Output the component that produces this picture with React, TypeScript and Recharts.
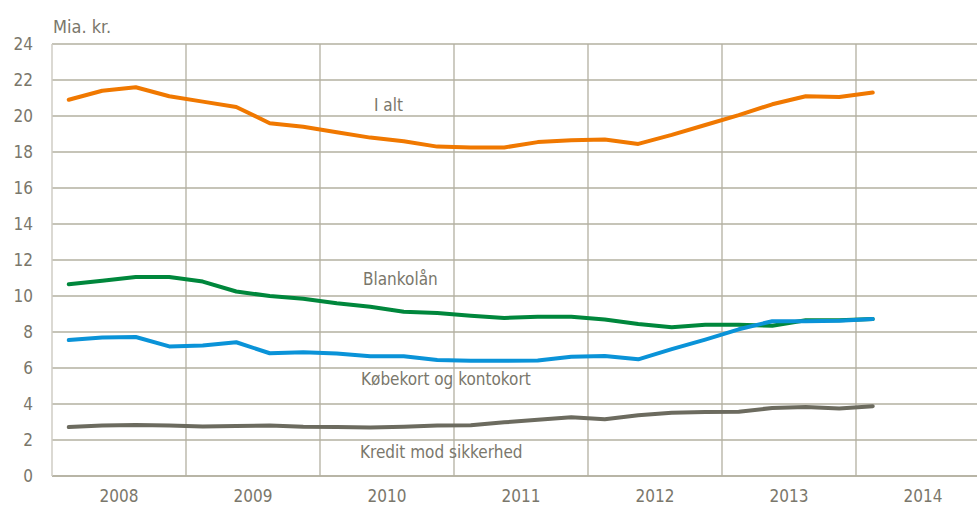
import React from 'react';
import { LineChart, Line, XAxis, YAxis, CartesianGrid, ReferenceLine } from 'recharts';

// quarterly values 2008 Q1 - 2014 Q1, mia. kr.
const iAlt = [20.9, 21.4, 21.6, 21.1, 20.8, 20.5, 19.6, 19.4, 19.1, 18.8, 18.6, 18.3, 18.25, 18.25, 18.55, 18.65, 18.7, 18.45, 18.95, 19.5, 20.05, 20.65, 21.1, 21.05, 21.3];
const blankolaan = [10.65, 10.85, 11.05, 11.05, 10.8, 10.25, 10.0, 9.85, 9.6, 9.4, 9.13, 9.05, 8.9, 8.78, 8.85, 8.85, 8.7, 8.45, 8.27, 8.4, 8.4, 8.35, 8.65, 8.65, 8.72];
const koebekort = [7.55, 7.7, 7.72, 7.2, 7.25, 7.43, 6.82, 6.88, 6.8, 6.65, 6.65, 6.45, 6.4, 6.4, 6.42, 6.63, 6.67, 6.48, 7.05, 7.58, 8.15, 8.6, 8.6, 8.63, 8.72];
const kredit = [2.72, 2.8, 2.83, 2.8, 2.75, 2.78, 2.8, 2.73, 2.72, 2.69, 2.73, 2.8, 2.82, 2.98, 3.12, 3.27, 3.15, 3.37, 3.52, 3.56, 3.57, 3.78, 3.84, 3.75, 3.88];

const years = ['2008', '2009', '2010', '2011', '2012', '2013', '2014'];
const yTicks = [0, 2, 4, 6, 8, 10, 12, 14, 16, 18, 20, 22, 24];

const data = iAlt.map((v, i) => ({
  t: i + 0.5,
  iAlt: v,
  blankolaan: blankolaan[i],
  koebekort: koebekort[i],
  kredit: kredit[i],
}));

const yearCenters = years.map((_, i) => i * 4 + 2);
const yearBounds = years.slice(1).map((_, i) => (i + 1) * 4);

const font = '"Liberation Sans Narrow", "DejaVu Sans Condensed", "Arial Narrow", sans-serif';
const txt = '#7a776b';
const grid = '#b3b0a1';

const App = () => {
  return (
    <div style={{ position: 'absolute', left: 0, top: 0, width: 977, height: 507, overflow: 'hidden', background: '#fff', fontFamily: font }}>
      <LineChart width={1000} height={507} data={data} margin={{ top: 44, right: 10, bottom: 0, left: 0 }}>
        <CartesianGrid vertical={false} stroke={grid} strokeWidth={1.3} />
        {yearBounds.map((x) => (
          <ReferenceLine key={x} x={x} stroke={grid} strokeWidth={1.3} />
        ))}
        <XAxis
          type="number"
          dataKey="t"
          domain={[0, 28]}
          ticks={yearCenters}
          tickFormatter={(v: number) => years[(v - 2) / 4]}
          tickLine={false}
          axisLine={{ stroke: grid, strokeWidth: 1.3 }}
          tickMargin={8}
          height={31}
          tick={{ fill: txt, fontSize: 17, fontFamily: font }}
        />
        <YAxis
          domain={[0, 24]}
          ticks={yTicks}
          width={52}
          tickLine={false}
          axisLine={{ stroke: '#cfcdc4', strokeWidth: 1.5 }}
          tickMargin={13}
          tick={{ fill: txt, fontSize: 17, fontFamily: font }}
        />
        <Line type="linear" dataKey="iAlt" stroke="#f07800" strokeWidth={4} dot={false} strokeLinecap="round" strokeLinejoin="round" isAnimationActive={false} />
        <Line type="linear" dataKey="blankolaan" stroke="#00873c" strokeWidth={4} dot={false} strokeLinecap="round" strokeLinejoin="round" isAnimationActive={false} />
        <Line type="linear" dataKey="koebekort" stroke="#0a93d8" strokeWidth={4} dot={false} strokeLinecap="round" strokeLinejoin="round" isAnimationActive={false} />
        <Line type="linear" dataKey="kredit" stroke="#6c6b5f" strokeWidth={4} dot={false} strokeLinecap="round" strokeLinejoin="round" isAnimationActive={false} />
      </LineChart>
      <svg width={977} height={507} style={{ position: 'absolute', left: 0, top: 0, pointerEvents: 'none' }}>
        <g fill={txt} fontFamily={font} fontSize={17}>
          <text x={53} y={33} fontSize={18}>Mia. kr.</text>
          <text x={374} y={111}>I alt</text>
          <text x={363} y={285}>Blankolån</text>
          <text x={361} y={385}>Købekort og kontokort</text>
          <text x={360} y={458}>Kredit mod sikkerhed</text>
        </g>
      </svg>
    </div>
  );
};

export default App;
